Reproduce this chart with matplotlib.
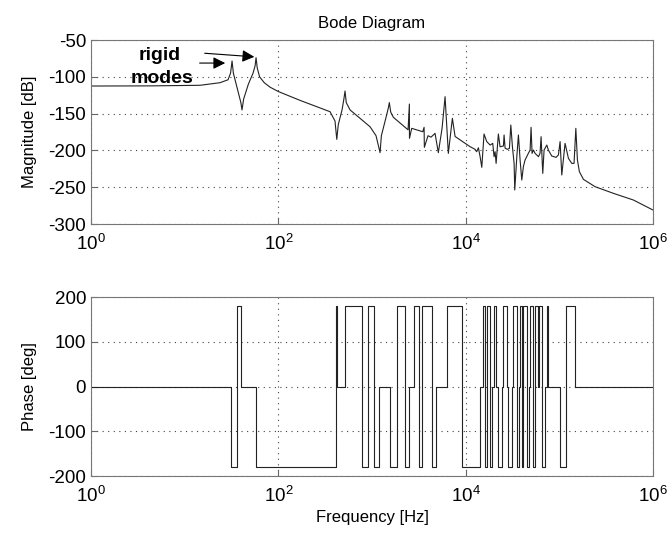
import numpy as np
import matplotlib
matplotlib.use("Agg")
import matplotlib.pyplot as plt

plt.rcParams['font.family'] = ['Liberation Sans', 'DejaVu Sans']
plt.rcParams['mathtext.fontset'] = 'custom'
plt.rcParams['mathtext.rm'] = 'Liberation Sans'
plt.rcParams['axes.unicode_minus'] = False

# magnitude curve: log10(frequency in Hz) and dB
mag_logf = [0.0, 0.63, 1.164, 1.377, 1.463, 1.49, 1.506, 1.52, 1.56, 1.60, 1.612,
            1.63, 1.68, 1.73, 1.752, 1.762, 1.775, 1.80, 1.85, 1.911, 2.0,
            2.232, 2.552, 2.605, 2.624, 2.64, 2.68, 2.70, 2.712, 2.725, 2.766,
            2.979, 3.043, 3.086, 3.10, 3.15, 3.175, 3.185, 3.20, 3.228, 3.385,
            3.399, 3.40, 3.424, 3.542, 3.556, 3.559, 3.598, 3.63, 3.673, 3.708,
            3.748, 3.780, 3.815, 3.858, 3.887, 3.99, 4.047, 4.100, 4.118, 4.136,
            4.154, 4.172, 4.196, 4.225, 4.261, 4.289, 4.303, 4.314, 4.325, 4.349,
            4.367, 4.403, 4.410, 4.421, 4.445, 4.467, 4.482, 4.499, 4.517, 4.524,
            4.546, 4.563, 4.581, 4.599, 4.616, 4.634, 4.652, 4.669, 4.688, 4.698,
            4.709, 4.723, 4.741, 4.759, 4.777, 4.794, 4.805, 4.823, 4.837, 4.866,
            4.883, 4.919, 4.965, 4.990, 5.008, 5.026, 5.061, 5.097, 5.133, 5.157,
            5.176, 5.193, 5.214, 5.257, 5.382, 5.577, 5.791, 6.0]
mag_db = [-112.5, -112.3, -111.5, -108, -104, -95, -78.5, -95, -115, -135, -145,
          -130, -110, -95, -85, -74, -88, -100, -108, -114, -120,
          -132, -147.4, -160, -185, -165, -145, -130, -119.3, -135, -145,
          -167.8, -180, -203, -180, -155, -142, -135, -148, -155, -172,
          -137, -183.6, -170, -174.6, -168.6, -195.8, -180, -182, -176.8, -203,
          -170, -127, -204, -156.4, -181, -190, -194.9, -198.5, -201.7, -196.4,
          -208.5, -223, -177.7, -188, -192.7, -190.4, -208.5, -201.7, -217.6, -177.7,
          -195, -194, -179, -197, -198.5, -197.2, -165.5, -195, -217.6, -253.8,
          -208.5, -179, -213, -240.2, -222.1, -213, -208.5, -204, -199.5, -168.6,
          -204, -199.5, -204, -206.2, -208.5, -204, -181.3, -231.2, -199.5, -192.7,
          -199.5, -207.6, -209.4, -206.2, -188, -233.4, -190.4, -210.8, -217.6, -217.6,
          -170, -213, -228.9, -239.3, -249.3, -258.3, -267.4, -281]

# phase: log10(frequency) where each level starts, and the level in degrees
phase_logf = [0.0, 1.495, 1.559, 1.602, 1.762, 2.616, 2.627, 2.712, 2.894, 2.958,
              3.022, 3.075, 3.193, 3.267, 3.353, 3.396, 3.449, 3.502, 3.534, 3.641,
              3.684, 3.801, 3.962, 4.154, 4.186, 4.207, 4.229, 4.261, 4.282, 4.303,
              4.325, 4.346, 4.389, 4.399, 4.442, 4.453, 4.495, 4.506, 4.549, 4.570,
              4.581, 4.605, 4.613, 4.655, 4.677, 4.688, 4.720, 4.741, 4.773, 4.784,
              4.816, 4.848, 4.869, 4.880, 5.008, 5.072, 5.168, 6.0]
phase_deg = [0, -180, 180, 0, -180, 180, 0, 180, -180, 180,
             -180, 0, -180, 180, -180, 0, 180, -180, 180, -180,
             0, 180, -180, 0, 180, -180, 180, -180, 0, 180,
             0, -180, 0, 180, 0, -180, 0, 180, -180, 0,
             180, -180, 180, -180, 0, 180, -180, 180, 0, 180,
             -180, 0, 180, 0, -180, 180, 0, 0]

mag_f = 10.0 ** np.array(mag_logf)
phase_f = 10.0 ** np.array(phase_logf)

fig = plt.figure(figsize=(6.71, 5.38), dpi=100)
ax1 = fig.add_axes([0.1356, 0.5836, 0.8376, 0.342])
ax2 = fig.add_axes([0.1356, 0.1152, 0.8376, 0.3327])

ax1.semilogx(mag_f, mag_db, color='#222222', lw=0.8)
ax2.step(phase_f, phase_deg, where='post', color='#222222', lw=0.8)

for ax in (ax1, ax2):
    ax.set_xlim(1, 1e6)
    ax.set_xscale('log')
    ax.set_xticks([1, 1e2, 1e4, 1e6])
    ax.xaxis.set_minor_locator(matplotlib.ticker.NullLocator())
    ax.grid(True, which='major', color='#444444', linestyle=(0, (1, 4)), lw=0.8)
    ax.tick_params(direction='in', labelsize=13.5, length=4, color='#666666')
    ax.tick_params(axis='x', pad=7)
    for s in ax.spines.values():
        s.set_color('#777777')

ax1.set_ylim(-300, -50)
ax1.set_yticks(np.arange(-300, -49, 50))
ax2.set_ylim(-200, 200)
ax2.set_yticks([-200, -100, 0, 100, 200])

ax1.set_title('Bode Diagram', fontsize=12, pad=9)
ax1.set_ylabel('Magnitude [dB]', fontsize=12, labelpad=8)
ax2.set_ylabel('Phase [deg]', fontsize=12, labelpad=8)
ax2.set_xlabel('Frequency [Hz]', fontsize=12, labelpad=3)

ax1.text(5.46, -70.4, 'rigid', fontsize=14, fontweight='bold', ha='center', va='center')
ax1.text(5.73, -101.6, 'modes', fontsize=14, fontweight='bold', ha='center', va='center')
arrow = dict(arrowstyle='-|>', mutation_scale=18, color='k', lw=0.8)
ax1.annotate('', xy=(59.3, -73.1), xytext=(15.3, -67.7), arrowprops=arrow)
ax1.annotate('', xy=(29, -81.3), xytext=(13.5, -81.3), arrowprops=arrow)

fig.savefig('out.png', dpi=100)
